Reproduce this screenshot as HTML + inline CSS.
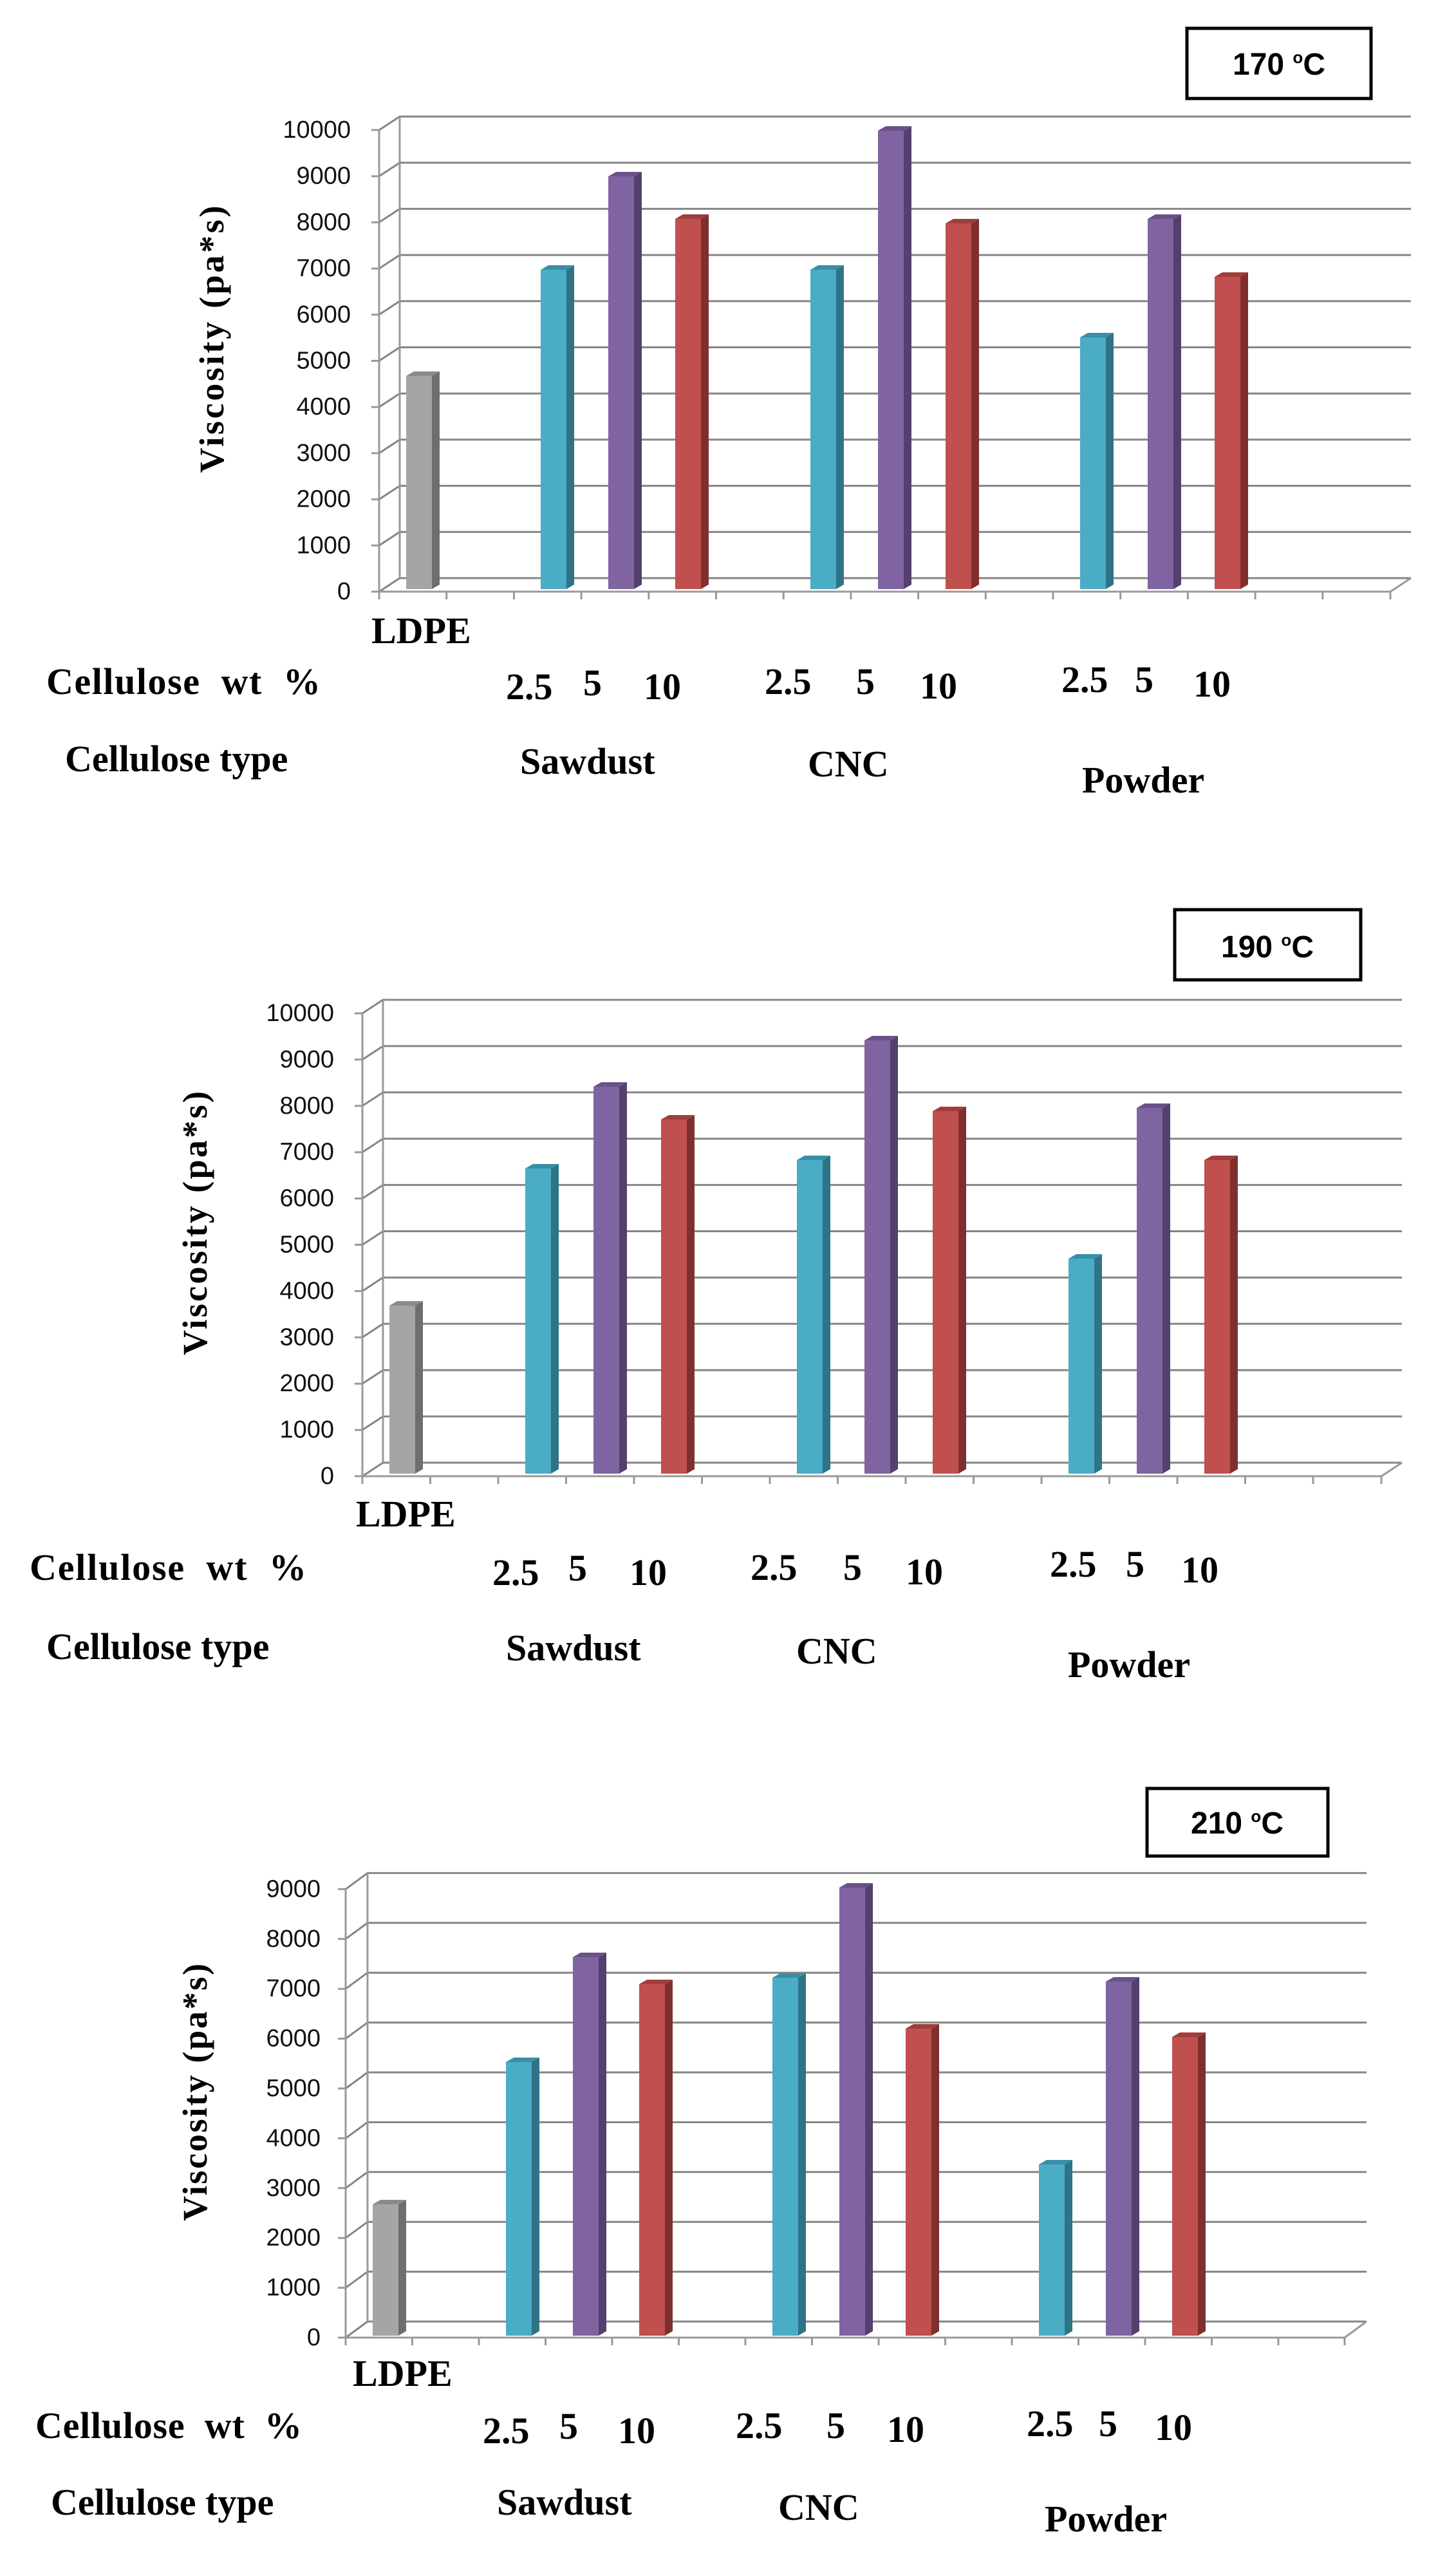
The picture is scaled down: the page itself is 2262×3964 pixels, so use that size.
<!DOCTYPE html>
<html><head><meta charset="utf-8"><style>
html,body{margin:0;padding:0;background:#fff}
svg{display:block}
.t{font-family:"Liberation Serif",serif;font-weight:bold;font-size:58px;fill:#000}
.yt{font-family:"Liberation Serif",serif;font-weight:bold;font-size:54px;fill:#000}
.tk{font-family:"Liberation Sans",sans-serif;font-size:38px;fill:#111;text-anchor:end;dominant-baseline:central}
.bx{font-family:"Liberation Sans",sans-serif;font-weight:bold;font-size:48px;fill:#000;text-anchor:middle}
.g{stroke:#858585;stroke-width:3;fill:none}
.ax{stroke:#999;stroke-width:3;fill:none}
</style></head><body>
<svg width="2262" height="3964" viewBox="0 0 2262 3964" xmlns="http://www.w3.org/2000/svg">
<rect width="2262" height="3964" fill="#fff"/>

<!-- ============ CHART 1 ============ -->
<rect x="1844" y="44" width="286" height="109" fill="#fff" stroke="#000" stroke-width="5"/>
<text class="bx" x="1987" y="116">170 <tspan font-size="26" dy="-18">o</tspan><tspan dy="18">C</tspan></text>
<g transform="translate(589,919)">
<path class="g" d="M0 0 L32 -21 H1603 M0 -71.7 L32 -92.7 H1603 M0 -143.4 L32 -164.4 H1603 M0 -215.1 L32 -236.1 H1603 M0 -286.8 L32 -307.8 H1603 M0 -358.5 L32 -379.5 H1603 M0 -430.2 L32 -451.2 H1603 M0 -501.9 L32 -522.9 H1603 M0 -573.6 L32 -594.6 H1603 M0 -645.3 L32 -666.3 H1603 M0 -717 L32 -738 H1603"/>
<path class="ax" d="M32 -21 V-738 M0 0 V-717 M0 0 H1571 L1603 -21 M-12 0 H0 M-12 -71.7 H0 M-12 -143.4 H0 M-12 -215.1 H0 M-12 -286.8 H0 M-12 -358.5 H0 M-12 -430.2 H0 M-12 -501.9 H0 M-12 -573.6 H0 M-12 -645.3 H0 M-12 -717 H0 M0 0 V12 M104.7 0 V12 M209.4 0 V12 M314.1 0 V12 M418.8 0 V12 M523.5 0 V12 M628.2 0 V12 M732.9 0 V12 M837.6 0 V12 M942.3 0 V12 M1047 0 V12 M1151.7 0 V12 M1256.4 0 V12 M1361.1 0 V12 M1465.8 0 V12 M1571 0 V12"/>
<text class="tk" x="-44" y="0">0</text><text class="tk" x="-44" y="-71.7">1000</text><text class="tk" x="-44" y="-143.4">2000</text><text class="tk" x="-44" y="-215.1">3000</text><text class="tk" x="-44" y="-286.8">4000</text><text class="tk" x="-44" y="-358.5">5000</text><text class="tk" x="-44" y="-430.2">6000</text><text class="tk" x="-44" y="-501.9">7000</text><text class="tk" x="-44" y="-573.6">8000</text><text class="tk" x="-44" y="-645.3">9000</text><text class="tk" x="-44" y="-717">10000</text>
<g transform="translate(42,0)"><rect x="0" y="-335" width="40" height="331" fill="#a5a5a5"/><polygon points="40,-4 52,-11 52,-342 40,-335" fill="#6e6e6e"/><polygon points="0,-335 12,-342 52,-342 40,-335" fill="#8a8a8a"/></g>
<g transform="translate(251,0)"><rect x="0" y="-500" width="40" height="496" fill="#4bacc6"/><polygon points="40,-4 52,-11 52,-507 40,-500" fill="#2e7486"/><polygon points="0,-500 12,-507 52,-507 40,-500" fill="#3a8ea5"/></g>
<g transform="translate(356,0)"><rect x="0" y="-645" width="40" height="641" fill="#8064a2"/><polygon points="40,-4 52,-11 52,-652 40,-645" fill="#54406e"/><polygon points="0,-645 12,-652 52,-652 40,-645" fill="#6a5288"/></g>
<g transform="translate(460,0)"><rect x="0" y="-579" width="40" height="575" fill="#c0504d"/><polygon points="40,-4 52,-11 52,-586 40,-579" fill="#7f302e"/><polygon points="0,-579 12,-586 52,-586 40,-579" fill="#a03e3b"/></g>
<g transform="translate(670,0)"><rect x="0" y="-500" width="40" height="496" fill="#4bacc6"/><polygon points="40,-4 52,-11 52,-507 40,-500" fill="#2e7486"/><polygon points="0,-500 12,-507 52,-507 40,-500" fill="#3a8ea5"/></g>
<g transform="translate(775,0)"><rect x="0" y="-716" width="40" height="712" fill="#8064a2"/><polygon points="40,-4 52,-11 52,-723 40,-716" fill="#54406e"/><polygon points="0,-716 12,-723 52,-723 40,-716" fill="#6a5288"/></g>
<g transform="translate(880,0)"><rect x="0" y="-572" width="40" height="568" fill="#c0504d"/><polygon points="40,-4 52,-11 52,-579 40,-572" fill="#7f302e"/><polygon points="0,-572 12,-579 52,-579 40,-572" fill="#a03e3b"/></g>
<g transform="translate(1089,0)"><rect x="0" y="-395" width="40" height="391" fill="#4bacc6"/><polygon points="40,-4 52,-11 52,-402 40,-395" fill="#2e7486"/><polygon points="0,-395 12,-402 52,-402 40,-395" fill="#3a8ea5"/></g>
<g transform="translate(1194,0)"><rect x="0" y="-579" width="40" height="575" fill="#8064a2"/><polygon points="40,-4 52,-11 52,-586 40,-579" fill="#54406e"/><polygon points="0,-579 12,-586 52,-586 40,-579" fill="#6a5288"/></g>
<g transform="translate(1298,0)"><rect x="0" y="-489" width="40" height="485" fill="#c0504d"/><polygon points="40,-4 52,-11 52,-496 40,-489" fill="#7f302e"/><polygon points="0,-489 12,-496 52,-496 40,-489" fill="#a03e3b"/></g>
</g>
<text class="yt" transform="translate(329,527) rotate(-90)" text-anchor="middle" dominant-baseline="central" textLength="415" lengthAdjust="spacing">Viscosity (pa*s)</text>
<text class="t" x="577" y="999">LDPE</text>
<text class="t" x="72" y="1078" xml:space="preserve" textLength="426" lengthAdjust="spacing">Cellulose  wt  %</text>
<text class="t" x="786" y="1086">2.5</text><text class="t" x="906" y="1080">5</text><text class="t" x="1000" y="1086">10</text>
<text class="t" x="1188" y="1078">2.5</text><text class="t" x="1330" y="1078">5</text><text class="t" x="1429" y="1085">10</text>
<text class="t" x="1649" y="1075">2.5</text><text class="t" x="1763" y="1075">5</text><text class="t" x="1854" y="1082">10</text>
<text class="t" x="101" y="1198">Cellulose type</text>
<text class="t" x="808" y="1202">Sawdust</text><text class="t" x="1255" y="1206">CNC</text><text class="t" x="1681" y="1231">Powder</text>

<!-- ============ CHART 2 ============ -->
<rect x="1825" y="1413" width="289" height="109" fill="#fff" stroke="#000" stroke-width="5"/>
<text class="bx" x="1969" y="1487">190 <tspan font-size="26" dy="-18">o</tspan><tspan dy="18">C</tspan></text>
<g transform="translate(563,2293)">
<path class="g" d="M0 0 L32 -21 H1615 M0 -71.9 L32 -92.9 H1615 M0 -143.8 L32 -164.8 H1615 M0 -215.7 L32 -236.7 H1615 M0 -287.6 L32 -308.6 H1615 M0 -359.5 L32 -380.5 H1615 M0 -431.4 L32 -452.4 H1615 M0 -503.3 L32 -524.3 H1615 M0 -575.2 L32 -596.2 H1615 M0 -647.1 L32 -668.1 H1615 M0 -719 L32 -740 H1615"/>
<path class="ax" d="M32 -21 V-740 M0 0 V-719 M0 0 H1583 L1615 -21 M-12 0 H0 M-12 -71.9 H0 M-12 -143.8 H0 M-12 -215.7 H0 M-12 -287.6 H0 M-12 -359.5 H0 M-12 -431.4 H0 M-12 -503.3 H0 M-12 -575.2 H0 M-12 -647.1 H0 M-12 -719 H0 M0 0 V12 M105.5 0 V12 M211 0 V12 M316.5 0 V12 M422 0 V12 M527.5 0 V12 M633 0 V12 M738.5 0 V12 M844 0 V12 M949.5 0 V12 M1055 0 V12 M1160.5 0 V12 M1266 0 V12 M1371.5 0 V12 M1477 0 V12 M1583 0 V12"/>
<text class="tk" x="-44" y="0">0</text><text class="tk" x="-44" y="-71.9">1000</text><text class="tk" x="-44" y="-143.8">2000</text><text class="tk" x="-44" y="-215.7">3000</text><text class="tk" x="-44" y="-287.6">4000</text><text class="tk" x="-44" y="-359.5">5000</text><text class="tk" x="-44" y="-431.4">6000</text><text class="tk" x="-44" y="-503.3">7000</text><text class="tk" x="-44" y="-575.2">8000</text><text class="tk" x="-44" y="-647.1">9000</text><text class="tk" x="-44" y="-719">10000</text>
<g transform="translate(42,0)"><rect x="0" y="-265" width="40" height="261" fill="#a5a5a5"/><polygon points="40,-4 52,-11 52,-272 40,-265" fill="#6e6e6e"/><polygon points="0,-265 12,-272 52,-272 40,-265" fill="#8a8a8a"/></g>
<g transform="translate(253,0)"><rect x="0" y="-478" width="40" height="474" fill="#4bacc6"/><polygon points="40,-4 52,-11 52,-485 40,-478" fill="#2e7486"/><polygon points="0,-478 12,-485 52,-485 40,-478" fill="#3a8ea5"/></g>
<g transform="translate(359,0)"><rect x="0" y="-605" width="40" height="601" fill="#8064a2"/><polygon points="40,-4 52,-11 52,-612 40,-605" fill="#54406e"/><polygon points="0,-605 12,-612 52,-612 40,-605" fill="#6a5288"/></g>
<g transform="translate(464,0)"><rect x="0" y="-554" width="40" height="550" fill="#c0504d"/><polygon points="40,-4 52,-11 52,-561 40,-554" fill="#7f302e"/><polygon points="0,-554 12,-561 52,-561 40,-554" fill="#a03e3b"/></g>
<g transform="translate(675,0)"><rect x="0" y="-491" width="40" height="487" fill="#4bacc6"/><polygon points="40,-4 52,-11 52,-498 40,-491" fill="#2e7486"/><polygon points="0,-491 12,-498 52,-498 40,-491" fill="#3a8ea5"/></g>
<g transform="translate(780,0)"><rect x="0" y="-677" width="40" height="673" fill="#8064a2"/><polygon points="40,-4 52,-11 52,-684 40,-677" fill="#54406e"/><polygon points="0,-677 12,-684 52,-684 40,-677" fill="#6a5288"/></g>
<g transform="translate(886,0)"><rect x="0" y="-567" width="40" height="563" fill="#c0504d"/><polygon points="40,-4 52,-11 52,-574 40,-567" fill="#7f302e"/><polygon points="0,-567 12,-574 52,-574 40,-567" fill="#a03e3b"/></g>
<g transform="translate(1097,0)"><rect x="0" y="-338" width="40" height="334" fill="#4bacc6"/><polygon points="40,-4 52,-11 52,-345 40,-338" fill="#2e7486"/><polygon points="0,-338 12,-345 52,-345 40,-338" fill="#3a8ea5"/></g>
<g transform="translate(1203,0)"><rect x="0" y="-572" width="40" height="568" fill="#8064a2"/><polygon points="40,-4 52,-11 52,-579 40,-572" fill="#54406e"/><polygon points="0,-572 12,-579 52,-579 40,-572" fill="#6a5288"/></g>
<g transform="translate(1308,0)"><rect x="0" y="-491" width="40" height="487" fill="#c0504d"/><polygon points="40,-4 52,-11 52,-498 40,-491" fill="#7f302e"/><polygon points="0,-491 12,-498 52,-498 40,-491" fill="#a03e3b"/></g>
</g>
<text class="yt" transform="translate(303,1900) rotate(-90)" text-anchor="middle" dominant-baseline="central" textLength="410" lengthAdjust="spacing">Viscosity (pa*s)</text>
<text class="t" x="553" y="2371">LDPE</text>
<text class="t" x="46" y="2454" xml:space="preserve" textLength="430" lengthAdjust="spacing">Cellulose  wt  %</text>
<text class="t" x="765" y="2462">2.5</text><text class="t" x="883" y="2455">5</text><text class="t" x="978" y="2462">10</text>
<text class="t" x="1166" y="2454">2.5</text><text class="t" x="1310" y="2454">5</text><text class="t" x="1407" y="2461">10</text>
<text class="t" x="1631" y="2449">2.5</text><text class="t" x="1749" y="2449">5</text><text class="t" x="1835" y="2458">10</text>
<text class="t" x="72" y="2577">Cellulose type</text>
<text class="t" x="786" y="2579">Sawdust</text><text class="t" x="1237" y="2584">CNC</text><text class="t" x="1659" y="2605">Powder</text>

<!-- ============ CHART 3 ============ -->
<rect x="1782" y="2778" width="281" height="105" fill="#fff" stroke="#000" stroke-width="5"/>
<text class="bx" x="1922" y="2848">210 <tspan font-size="26" dy="-18">o</tspan><tspan dy="18">C</tspan></text>
<g transform="translate(537,3631)">
<path class="g" d="M0 0 L34 -25 H1586 M0 -77.4 L34 -102.4 H1586 M0 -154.8 L34 -179.8 H1586 M0 -232.2 L34 -257.2 H1586 M0 -309.6 L34 -334.6 H1586 M0 -387 L34 -412 H1586 M0 -464.4 L34 -489.4 H1586 M0 -541.8 L34 -566.8 H1586 M0 -619.2 L34 -644.2 H1586 M0 -696.6 L34 -721.6 H1586"/>
<path class="ax" d="M34 -25 V-721.6 M0 0 V-696.6 M0 0 H1552 L1586 -25 M-12 0 H0 M-12 -77.4 H0 M-12 -154.8 H0 M-12 -232.2 H0 M-12 -309.6 H0 M-12 -387 H0 M-12 -464.4 H0 M-12 -541.8 H0 M-12 -619.2 H0 M-12 -696.6 H0 M0 0 V12 M103.5 0 V12 M207 0 V12 M310.5 0 V12 M414 0 V12 M517.5 0 V12 M621 0 V12 M724.5 0 V12 M828 0 V12 M931.5 0 V12 M1035 0 V12 M1138.5 0 V12 M1242 0 V12 M1345.5 0 V12 M1449 0 V12 M1552 0 V12"/>
<text class="tk" x="-39" y="0">0</text><text class="tk" x="-39" y="-77.4">1000</text><text class="tk" x="-39" y="-154.8">2000</text><text class="tk" x="-39" y="-232.2">3000</text><text class="tk" x="-39" y="-309.6">4000</text><text class="tk" x="-39" y="-387">5000</text><text class="tk" x="-39" y="-464.4">6000</text><text class="tk" x="-39" y="-541.8">7000</text><text class="tk" x="-39" y="-619.2">8000</text><text class="tk" x="-39" y="-696.6">9000</text>
<g transform="translate(42,0)"><rect x="0" y="-207" width="40" height="204" fill="#a5a5a5"/><polygon points="40,-3 52,-10 52,-214 40,-207" fill="#6e6e6e"/><polygon points="0,-207 12,-214 52,-214 40,-207" fill="#8a8a8a"/></g>
<g transform="translate(249,0)"><rect x="0" y="-428" width="40" height="425" fill="#4bacc6"/><polygon points="40,-3 52,-10 52,-435 40,-428" fill="#2e7486"/><polygon points="0,-428 12,-435 52,-435 40,-428" fill="#3a8ea5"/></g>
<g transform="translate(353,0)"><rect x="0" y="-591" width="40" height="588" fill="#8064a2"/><polygon points="40,-3 52,-10 52,-598 40,-591" fill="#54406e"/><polygon points="0,-591 12,-598 52,-598 40,-591" fill="#6a5288"/></g>
<g transform="translate(456,0)"><rect x="0" y="-549" width="40" height="546" fill="#c0504d"/><polygon points="40,-3 52,-10 52,-556 40,-549" fill="#7f302e"/><polygon points="0,-549 12,-556 52,-556 40,-549" fill="#a03e3b"/></g>
<g transform="translate(663,0)"><rect x="0" y="-559" width="40" height="556" fill="#4bacc6"/><polygon points="40,-3 52,-10 52,-566 40,-559" fill="#2e7486"/><polygon points="0,-559 12,-566 52,-566 40,-559" fill="#3a8ea5"/></g>
<g transform="translate(767,0)"><rect x="0" y="-699" width="40" height="696" fill="#8064a2"/><polygon points="40,-3 52,-10 52,-706 40,-699" fill="#54406e"/><polygon points="0,-699 12,-706 52,-706 40,-699" fill="#6a5288"/></g>
<g transform="translate(870,0)"><rect x="0" y="-480" width="40" height="477" fill="#c0504d"/><polygon points="40,-3 52,-10 52,-487 40,-480" fill="#7f302e"/><polygon points="0,-480 12,-487 52,-487 40,-480" fill="#a03e3b"/></g>
<g transform="translate(1077,0)"><rect x="0" y="-269" width="40" height="266" fill="#4bacc6"/><polygon points="40,-3 52,-10 52,-276 40,-269" fill="#2e7486"/><polygon points="0,-269 12,-276 52,-276 40,-269" fill="#3a8ea5"/></g>
<g transform="translate(1181,0)"><rect x="0" y="-553" width="40" height="550" fill="#8064a2"/><polygon points="40,-3 52,-10 52,-560 40,-553" fill="#54406e"/><polygon points="0,-553 12,-560 52,-560 40,-553" fill="#6a5288"/></g>
<g transform="translate(1284,0)"><rect x="0" y="-467" width="40" height="464" fill="#c0504d"/><polygon points="40,-3 52,-10 52,-474 40,-467" fill="#7f302e"/><polygon points="0,-467 12,-474 52,-474 40,-467" fill="#a03e3b"/></g>
</g>
<text class="yt" transform="translate(303,3250) rotate(-90)" text-anchor="middle" dominant-baseline="central" textLength="400" lengthAdjust="spacing">Viscosity (pa*s)</text>
<text class="t" x="548" y="3706">LDPE</text>
<text class="t" x="55" y="3787" xml:space="preserve" textLength="414" lengthAdjust="spacing">Cellulose  wt  %</text>
<text class="t" x="750" y="3795">2.5</text><text class="t" x="869" y="3788">5</text><text class="t" x="960" y="3795">10</text>
<text class="t" x="1143" y="3787">2.5</text><text class="t" x="1284" y="3787">5</text><text class="t" x="1378" y="3793">10</text>
<text class="t" x="1595" y="3784">2.5</text><text class="t" x="1707" y="3784">5</text><text class="t" x="1794" y="3790">10</text>
<text class="t" x="79" y="3906">Cellulose type</text>
<text class="t" x="772" y="3906">Sawdust</text><text class="t" x="1209" y="3914">CNC</text><text class="t" x="1623" y="3932">Powder</text>
</svg>
</body></html>
